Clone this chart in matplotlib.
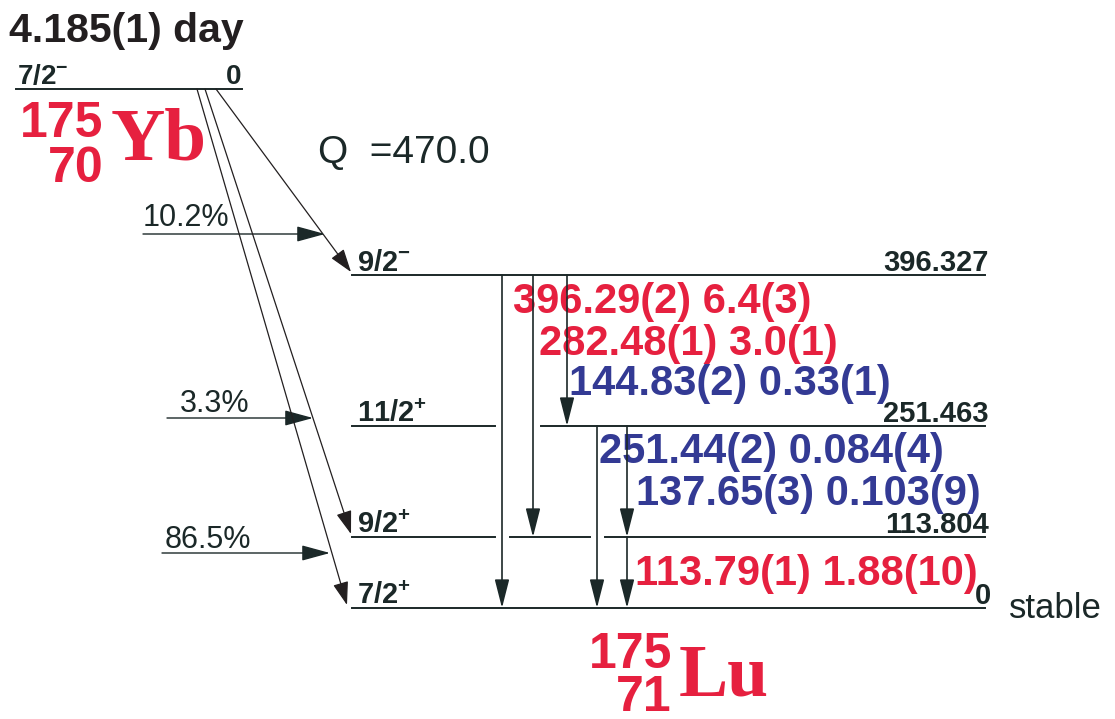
import matplotlib
matplotlib.use("Agg")
import matplotlib.pyplot as plt

plt.rcParams['font.family'] = ['Liberation Sans', 'DejaVu Sans']
plt.rcParams['mathtext.fontset'] = 'custom'
plt.rcParams['mathtext.rm'] = 'Liberation Sans'
plt.rcParams['mathtext.bf'] = 'Liberation Sans:bold'

# ==================== data ====================
HALF_LIFE = "4.185(1) day"
Q_VALUE = "470.0"
PARENT_SPIN = "7/2-"
PARENT_ENERGY = "0"

LEVEL_SPINS = ["9/2-", "11/2+", "9/2+", "7/2+"]
LEVEL_ENERGIES = ["396.327", "251.463", "113.804", "0"]

BETA_BRANCHES = ["10.2%", "3.3%", "86.5%"]
BETA_TO = [0, 2, 3]          # daughter level index fed

GAMMA_ENERGIES = ["396.29(2)", "282.48(1)", "144.83(2)", "251.44(2)", "137.65(3)", "113.79(1)"]
GAMMA_INTENS = ["6.4(3)", "3.0(1)", "0.33(1)", "0.084(4)", "0.103(9)", "1.88(10)"]
GAMMA_FROM = [0, 0, 0, 1, 1, 2]
GAMMA_TO = [3, 2, 1, 3, 2, 3]

# ==================== layout (pixels) ====================
LEVEL_Y = [275, 426, 537, 608]
LEVEL_X0, LEVEL_X1 = 352, 985
PARENT_Y, PARENT_X0, PARENT_X1 = 89, 16, 242
GAMMA_X = [502, 533, 567, 597, 627, 627]
GAMMA_LABEL_XY = [(513, 313), (539, 355), (569, 395), (599, 463), (636, 505), (635, 585)]
BETA_START_X = [216, 205, 197]
BETA_END_X = [351, 351, 347]
BETA_LABEL_XY = [(143, 226), (180, 412), (165, 548)]
BETA_ARROW = [(143, 325, 234), (167, 313, 418), (162, 330, 553)]

RED = '#E6203F'
BLUE = '#333A94'
DARK = '#1B2828'


def spin_tex(s):
    return r'$\mathbf{%s^{%s}}$' % (s[:-1], s[-1])


fig = plt.figure(figsize=(11.15, 7.19), dpi=100)
ax = fig.add_axes([0, 0, 1, 1])
ax.set_xlim(0, 1115)
ax.set_ylim(719, 0)
ax.axis('off')

# —— parent
ax.text(9, 42, HALF_LIFE, fontsize=29.5, fontweight='bold', color='#231F20')
ax.plot([PARENT_X0, PARENT_X1], [PARENT_Y, PARENT_Y], color=DARK, lw=1.4)
ax.text(17, 84, spin_tex(PARENT_SPIN), fontsize=20, color=DARK)
ax.text(241, 84, PARENT_ENERGY, fontsize=20, fontweight='bold', color=DARK, ha='right')
ax.text(103, 137, "175", fontsize=36, fontweight='bold', color=RED, ha='right')
ax.text(103, 182, "70", fontsize=36, fontweight='bold', color=RED, ha='right')
ax.text(111, 160, "Yb", fontsize=54, fontweight='bold', color=RED, family='Liberation Serif')
ax.text(318, 163, "Q  =" + Q_VALUE, fontsize=28, color=DARK)

# —— daughter levels, broken where a gamma passes through
for i, (y, spin, en) in enumerate(zip(LEVEL_Y, LEVEL_SPINS, LEVEL_ENERGIES)):
    cross = sorted(x for x, f, t in zip(GAMMA_X, GAMMA_FROM, GAMMA_TO) if f < i < t)
    gaps = []
    for x in cross:
        a, b = x - 7, x + 8
        if gaps and a - gaps[-1][1] < 20:
            gaps[-1][1] = b
        else:
            gaps.append([a, b])
    x0 = LEVEL_X0
    for a, b in gaps:
        ax.plot([x0, a], [y, y], color=DARK, lw=1.4)
        x0 = b
    ax.plot([x0, LEVEL_X1], [y, y], color=DARK, lw=1.4)
    ax.text(357, y - 4, spin_tex(spin), fontsize=21, color=DARK)
    ax.text(991 if en == "0" else 989, y - 4, en, fontsize=21, fontweight='bold',
            color=DARK, ha='right')

ax.text(1009, 618, "stable", fontsize=25, color=DARK)

# —— beta branches
for k, lvl in enumerate(BETA_TO):
    ax.annotate('', xy=(BETA_END_X[k], LEVEL_Y[lvl] - 3), xytext=(BETA_START_X[k], PARENT_Y),
                arrowprops=dict(arrowstyle='-|>,head_length=0.9,head_width=0.3',
                                color='#231F20', lw=0.9, shrinkA=0, shrinkB=0,
                                mutation_scale=16))
    x0, x1, y = BETA_ARROW[k]
    ax.annotate('', xy=(x1, y), xytext=(x0, y),
                arrowprops=dict(arrowstyle='-|>,head_length=1.1,head_width=0.3',
                                color=DARK, lw=1.0, shrinkA=0, shrinkB=0,
                                mutation_scale=16))
    ax.text(BETA_LABEL_XY[k][0], BETA_LABEL_XY[k][1], BETA_BRANCHES[k],
            fontsize=22, color=DARK)

# —— gamma transitions
for k in range(len(GAMMA_ENERGIES)):
    x = GAMMA_X[k]
    ax.annotate('', xy=(x, LEVEL_Y[GAMMA_TO[k]]), xytext=(x, LEVEL_Y[GAMMA_FROM[k]]),
                arrowprops=dict(arrowstyle='-|>,head_length=1.1,head_width=0.28',
                                color=DARK, lw=1.2, shrinkA=0, shrinkB=0,
                                mutation_scale=16))
    col = RED if float(GAMMA_INTENS[k].split('(')[0]) > 1 else BLUE
    lx, ly = GAMMA_LABEL_XY[k]
    ax.text(lx, ly, GAMMA_ENERGIES[k] + " " + GAMMA_INTENS[k], fontsize=30,
            fontweight='bold', color=col)

# —— daughter nucleus
ax.text(672, 668, "175", fontsize=36, fontweight='bold', color=RED, ha='right')
ax.text(672, 711, "71", fontsize=36, fontweight='bold', color=RED, ha='right')
ax.text(679, 695, "Lu", fontsize=53, fontweight='bold', color=RED, family='Liberation Serif')

fig.savefig("out.png", dpi=100)
